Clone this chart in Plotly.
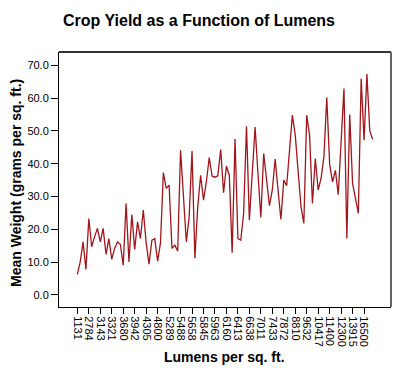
import plotly.graph_objects as go

# Lumens per sq. ft. (every 4th category is labelled on the axis)
tick_labels = ["1131", "2784", "3143", "3321", "3680", "3942", "4305", "4800",
               "5289", "5488", "5658", "5845", "5963", "6160", "6413", "6638",
               "7011", "7433", "7872", "8810", "9632", "10417", "11400",
               "12300", "13915", "16500"]

# Mean weight (grams per sq. ft.) per lumen category
mean_weight = [
    6.3, 10.1, 16.2, 7.8, 23.3, 14.7, 17.7, 20.3, 16.2, 20.3,
    12.4, 17.2, 10.9, 14.2, 16.2, 15.4, 9.1, 27.9, 10.1, 24.5,
    13.9, 22.3, 17.2, 25.9, 15.9, 9.4, 16.7, 17.2, 10.3, 15.9,
    37.3, 32.5, 33.5, 14.2, 15.2, 13.4, 44.1, 30.0, 16.2, 23.8,
    43.9, 11.2, 27.0, 36.5, 28.9, 34.5, 41.9, 36.2, 35.9, 36.3,
    44.3, 31.2, 39.3, 36.5, 12.9, 47.5, 17.2, 16.7, 24.9, 51.4,
    22.8, 37.0, 51.2, 37.0, 23.6, 43.1, 35.0, 27.2, 32.0, 41.4,
    32.0, 23.0, 35.0, 33.3, 44.0, 54.8, 48.7, 38.0, 26.9, 21.8,
    54.8, 48.7, 27.9, 41.6, 32.0, 35.5, 42.1, 60.2, 39.8, 34.5,
    38.0, 30.6, 46.0, 62.9, 17.2, 55.0, 34.0, 29.9, 24.9, 66.0,
    47.2, 67.3, 50.0, 47.4,
]

y_ticks = [0, 10, 20, 30, 40, 50, 60, 70]

positions = list(range(len(mean_weight)))
label_every = 4
tick_positions = positions[::label_every][:len(tick_labels)]

FONT = "Liberation Sans, Arial, sans-serif"

fig = go.Figure()
fig.add_trace(go.Scatter(
    x=positions, y=mean_weight, mode="lines",
    line=dict(color="#a0161c", width=1.3),
    hoverinfo="skip", showlegend=False,
))

fig.update_layout(
    width=400, height=376,
    margin=dict(l=59, r=9, t=52, b=69, autoexpand=False),
    paper_bgcolor="white", plot_bgcolor="white",
    font=dict(family=FONT, color="black", size=11),
    title=dict(text="<b>Crop Yield as a Function of Lumens</b>",
               x=0.4975, xref="container", xanchor="center",
               y=1 - 20 / 376, yref="container", yanchor="middle",
               font=dict(family=FONT, size=16, color="black")),
    xaxis=dict(
        range=[-6.4, 109.4], tickmode="array",
        tickvals=tick_positions, ticktext=tick_labels, tickangle=90,
        ticks="outside", ticklen=6, tickcolor="black", tickwidth=1,
        showline=True, linecolor="black", linewidth=1,
        showgrid=False, zeroline=False, automargin=False,
        tickfont=dict(family=FONT, size=11, color="black"),
    ),
    yaxis=dict(
        range=[-3.66, 74.05], tickmode="array",
        tickvals=y_ticks, ticktext=[f"{v:.1f}" for v in y_ticks],
        ticks="outside", ticklen=7, tickcolor="black", tickwidth=1,
        showline=True, linecolor="black", linewidth=1,
        showgrid=False, zeroline=False, automargin=False,
        tickfont=dict(family=FONT, size=11, color="black"),
    ),
    shapes=[
        dict(type="line", xref="paper", yref="paper", x0=0, x1=1, y0=1, y1=1,
             line=dict(color="#333333", width=2)),
        dict(type="line", xref="paper", yref="paper", x0=1, x1=1, y0=0, y1=1,
             line=dict(color="#666666", width=2)),
    ],
    annotations=[
        dict(text="<b>Mean Weight (grams per sq. ft.)</b>", textangle=-90,
             xref="paper", yref="paper", x=(16 - 59) / 332, y=(307 - 183) / 255,
             xanchor="center", yanchor="middle", showarrow=False,
             font=dict(family=FONT, size=14, color="black")),
        dict(text="<b>Lumens per sq. ft.</b>",
             xref="paper", yref="paper", x=(224 - 59) / 332, y=-(357 - 307) / 255,
             xanchor="center", yanchor="middle", showarrow=False,
             font=dict(family=FONT, size=14, color="black")),
    ],
)

fig.write_html("out.html")
